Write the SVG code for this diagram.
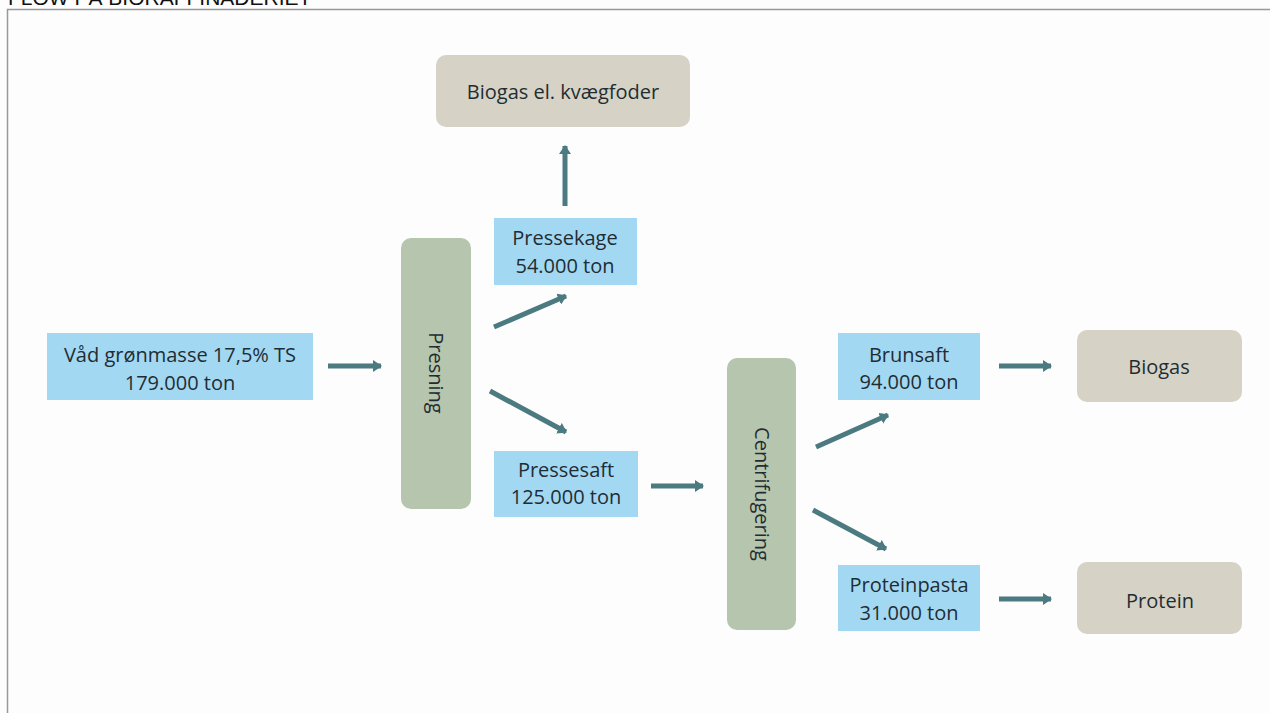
<svg xmlns="http://www.w3.org/2000/svg" width="1270" height="713" viewBox="0 0 1270 713">
<style>
.t{font-family:"Open Sans","Liberation Sans",sans-serif;font-size:20px;fill:#1f2d33;text-anchor:middle}
.blue{fill:#a3d8f3}
.sage{fill:#b6c6ae}
.beige{fill:#d6d3c6}
.c{stroke:#4b7a80;stroke-width:5;fill:none}
</style>
<defs>
<marker id="ah" markerUnits="userSpaceOnUse" markerWidth="10" markerHeight="12" refX="8" refY="6" orient="auto">
<path d="M0,0 L9,6 L0,12 Z" fill="#4b7a80"/>
</marker>
</defs>
<rect width="1270" height="713" fill="#fdfdfd"/>
<text x="8" y="5" style="font-family:'Liberation Sans',sans-serif;font-size:21px;fill:#111">FLOW PÅ BIORAFFINADERIET</text>
<path d="M7.5,713 V9.5 H1270" fill="none" stroke="#999" stroke-width="1.5"/>
<g id="connectors">
<line class="c" x1="328" y1="366" x2="381" y2="366" marker-end="url(#ah)"/>
<line class="c" x1="565" y1="206" x2="565" y2="146" marker-end="url(#ah)"/>
<line class="c" x1="494" y1="327" x2="566" y2="296" marker-end="url(#ah)"/>
<line class="c" x1="490" y1="391" x2="566" y2="432" marker-end="url(#ah)"/>
<line class="c" x1="651" y1="486" x2="703" y2="486" marker-end="url(#ah)"/>
<line class="c" x1="816" y1="447" x2="888" y2="415" marker-end="url(#ah)"/>
<line class="c" x1="813" y1="510" x2="886" y2="549" marker-end="url(#ah)"/>
<line class="c" x1="999" y1="366" x2="1051" y2="366" marker-end="url(#ah)"/>
<line class="c" x1="999" y1="599" x2="1051" y2="599" marker-end="url(#ah)"/>
</g>
<g id="vaad">
<rect class="blue" x="47" y="333" width="266" height="67"/>
<text class="t" x="180" y="362">Våd grønmasse 17,5% TS</text>
<text class="t" x="180" y="390">179.000 ton</text>
</g>
<g id="presning">
<rect class="sage" x="401" y="238" width="70" height="271" rx="10"/>
<text class="t" transform="translate(429,373) rotate(90)">Presning</text>
</g>
<g id="pressekage">
<rect class="blue" x="494" y="218" width="143" height="67"/>
<text class="t" x="565" y="245">Pressekage</text>
<text class="t" x="565" y="273">54.000 ton</text>
</g>
<g id="kvaegfoder">
<rect class="beige" x="436" y="55" width="254" height="72" rx="10"/>
<text class="t" x="563" y="99">Biogas el. kvægfoder</text>
</g>
<g id="pressesaft">
<rect class="blue" x="494" y="451" width="144" height="66"/>
<text class="t" x="566" y="477">Pressesaft</text>
<text class="t" x="566" y="504">125.000 ton</text>
</g>
<g id="centrifugering">
<rect class="sage" x="727" y="358" width="69" height="272" rx="10"/>
<text class="t" transform="translate(755,494) rotate(90)">Centrifugering</text>
</g>
<g id="brunsaft">
<rect class="blue" x="838" y="333" width="142" height="67"/>
<text class="t" x="909" y="362">Brunsaft</text>
<text class="t" x="909" y="389">94.000 ton</text>
</g>
<g id="proteinpasta">
<rect class="blue" x="838" y="565" width="142" height="66"/>
<text class="t" x="909" y="592">Proteinpasta</text>
<text class="t" x="909" y="620">31.000 ton</text>
</g>
<g id="biogas">
<rect class="beige" x="1077" y="330" width="165" height="72" rx="10"/>
<text class="t" x="1159" y="374">Biogas</text>
</g>
<g id="protein">
<rect class="beige" x="1077" y="562" width="165" height="72" rx="10"/>
<text class="t" x="1160" y="608">Protein</text>
</g>
</svg>
